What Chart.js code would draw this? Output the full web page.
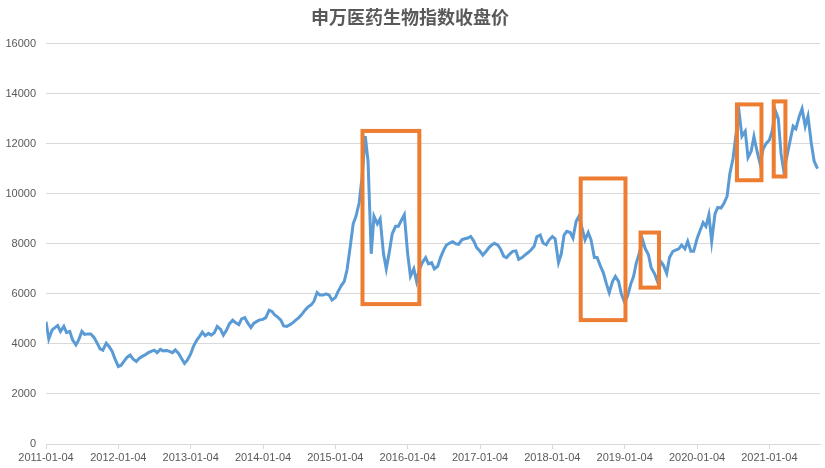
<!DOCTYPE html>
<html>
<head>
<meta charset="utf-8">
<script src="https://cdn.jsdelivr.net/npm/chart.js@4/dist/chart.umd.min.js"></script>
<style>
  html, body { margin: 0; padding: 0; background: #fff; }
  #wrap { width: 825px; height: 468px; }
</style>
</head>
<body>
<div id="wrap"><canvas id="graf"></canvas></div>
<script>
// closes, two per month (the 4th and the 18th)
const close2011 = [4890, 4200, 4560, 4650, 4730, 4500, 4700, 4450, 4500, 4160, 3960, 4160, 4500, 4380, 4400, 4400, 4250, 4050, 3800, 3750, 4030, 3900, 3700, 3400];
const close2012 = [3100, 3150, 3330, 3470, 3550, 3400, 3300, 3420, 3500, 3560, 3650, 3700, 3750, 3650, 3780, 3720, 3740, 3700, 3650, 3760, 3620, 3430, 3220, 3350];
const close2013 = [3600, 3900, 4150, 4300, 4470, 4330, 4420, 4350, 4450, 4700, 4580, 4350, 4550, 4800, 4950, 4850, 4770, 5000, 5050, 4850, 4650, 4820, 4900, 4960];
const close2014 = [4980, 5050, 5350, 5300, 5160, 5080, 4950, 4720, 4700, 4760, 4850, 4950, 5050, 5170, 5350, 5470, 5560, 5700, 6050, 5950, 5950, 6000, 5950, 5750];
const close2015 = [5850, 6100, 6340, 6500, 6960, 7760, 8800, 9100, 9630, 10600, 12300, 11300, 7600, 9100, 8800, 9000, 7600, 7000, 7700, 8400, 8700, 8700, 8950, 9160];
const close2016 = [7600, 6700, 7000, 6500, 7000, 7250, 7450, 7200, 7250, 7000, 7100, 7450, 7750, 7950, 8030, 8080, 8000, 7980, 8160, 8200, 8230, 8290, 8100, 7850];
const close2017 = [7700, 7550, 7700, 7850, 7950, 8020, 7950, 7780, 7500, 7450, 7600, 7700, 7720, 7380, 7450, 7550, 7650, 7750, 7900, 8290, 8350, 8030, 7960, 8150];
const close2018 = [8290, 8200, 7250, 7600, 8350, 8500, 8450, 8230, 8900, 9100, 8600, 8160, 8450, 8160, 7450, 7450, 7100, 6850, 6400, 6050, 6500, 6700, 6500, 6000];
const close2019 = [5650, 5900, 6400, 6700, 7250, 7600, 8160, 7800, 7560, 7030, 6800, 6500, 7300, 7150, 6820, 7450, 7700, 7750, 7800, 7950, 7800, 8100, 7700, 7700];
const close2020 = [8200, 8500, 8850, 8700, 9160, 8100, 9200, 9450, 9430, 9600, 9900, 10800, 11400, 12300, 13250, 12300, 12500, 11450, 11700, 12290, 11650, 11200, 11800, 12000];
const close2021 = [12150, 12500, 13300, 13000, 11600, 10900, 11550, 12100, 12700, 12600, 13100, 13400, 12700, 13100, 12000, 11300, 11000];

const years = [2011, 2012, 2013, 2014, 2015, 2016, 2017, 2018, 2019, 2020, 2021];
const closes = [close2011, close2012, close2013, close2014, close2015, close2016, close2017, close2018, close2019, close2020, close2021];

const yTicks = [0, 2000, 4000, 6000, 8000, 10000, 12000, 14000, 16000];

// orange boxes
const boxFrom = ["2015-05-21", "2018-05-27", "2019-03-25", "2020-07-24", "2021-01-26"];
const boxTo   = ["2016-03-03", "2019-01-08", "2019-06-26", "2020-11-25", "2021-03-26"];
const boxLow  = [5590, 4950, 6250, 10540, 10690];
const boxHigh = [12510, 10610, 8450, 13570, 13690];

const titulo = "申万医药生物指数收盘价";

// fecha -> año fraccional, cada año va de un 01-04 al siguiente
function aAnio(str) {
    const p = str.split("-").map(Number);
    const d = Date.UTC(p[0], p[1] - 1, p[2]);
    const a = Date.UTC(p[0], 0, 4);
    const b = Date.UTC(p[0] + 1, 0, 4);
    return p[0] + (d - a) / (b - a);
}

const puntos = [];
years.forEach((y, j) => {
    closes[j].forEach((v, i) => {
        const mes = String(Math.floor(i / 2) + 1).padStart(2, "0");
        const dia = i % 2 === 0 ? "04" : "18";
        puntos.push({ x: aAnio(y + "-" + mes + "-" + dia), y: v });
    });
});

const gris = "#595959";
const linea = "#d9d9d9";

const cajasPlugin = {
    id: "cajas",
    afterDatasetsDraw(chart) {
        const ctx = chart.ctx;
        const sx = chart.scales.x, sy = chart.scales.y;
        ctx.save();
        ctx.strokeStyle = "#ED7D31";
        ctx.lineWidth = 4;
        for (let i = 0; i < boxFrom.length; i++) {
            const x1 = sx.getPixelForValue(aAnio(boxFrom[i]));
            const x2 = sx.getPixelForValue(aAnio(boxTo[i]));
            const y1 = sy.getPixelForValue(boxHigh[i]);
            const y2 = sy.getPixelForValue(boxLow[i]);
            ctx.strokeRect(x1, y1, x2 - x1, y2 - y1);
        }
        ctx.restore();
    }
};

new Chart(document.getElementById("graf"), {
    type: "line",
    data: {
        datasets: [{
            label: titulo,
            data: puntos,
            borderColor: "#5B9BD5",
            borderWidth: 3,
            pointRadius: 0,
            tension: 0,
            fill: false
        }]
    },
    options: {
        responsive: true,
        maintainAspectRatio: false,
        animation: false,
        layout: { padding: { left: 0, right: 5, top: 0, bottom: 0 } },
        plugins: {
            legend: { display: false },
            tooltip: { enabled: false },
            title: {
                display: true,
                text: titulo,
                color: gris,
                font: { family: "'Noto Sans CJK SC', sans-serif", size: 18, weight: "bold" },
                padding: { top: 6, bottom: 16 }
            }
        },
        scales: {
            x: {
                type: "linear",
                min: 2011,
                max: 2021.7,
                afterFit(scale) { scale.height = 24; },
                afterBuildTicks(scale) { scale.ticks = years.map(y => ({ value: y })); },
                ticks: {
                    color: gris,
                    font: { family: "'Liberation Sans', sans-serif", size: 11 },
                    padding: 2,
                    maxRotation: 0,
                    autoSkip: false,
                    callback: v => v + "-01-04"
                },
                grid: { drawOnChartArea: false, drawTicks: true, tickLength: 5, color: linea },
                border: { display: true, color: linea }
            },
            y: {
                min: 0,
                max: 16000,
                afterFit(scale) { scale.width = 46; },
                afterBuildTicks(scale) { scale.ticks = yTicks.map(v => ({ value: v })); },
                ticks: {
                    color: gris,
                    font: { family: "'Liberation Sans', sans-serif", size: 11 },
                    padding: 10,
                    callback: v => String(v)
                },
                grid: { color: linea, drawTicks: false },
                border: { display: false }
            }
        }
    },
    plugins: [cajasPlugin]
});
</script>
</body>
</html>
